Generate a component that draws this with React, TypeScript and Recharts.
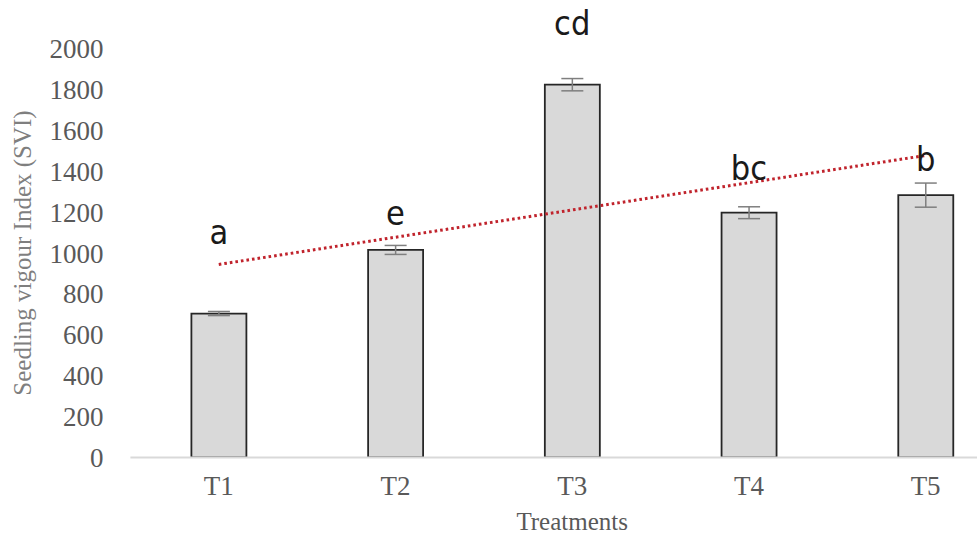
import React from 'react'
import {
  ComposedChart, Bar, ErrorBar, XAxis, YAxis, ReferenceLine, ReferenceDot,
} from 'recharts'

const treatments = ['T1', 'T2', 'T3', 'T4', 'T5']
const svi = [704, 1015, 1823, 1197, 1283]
const sviErr = [10, 22, 30, 29, 59]
const letters = ['a', 'e', 'cd', 'bc', 'b']
const letterAt = [1046, 1139, 2068, 1355, 1399]
const trendEnds = [944, 1477]
const yTicks = [0, 200, 400, 600, 800, 1000, 1200, 1400, 1600, 1800, 2000]

const rows = treatments.map((t, i) => ({ name: t, svi: svi[i], err: sviErr[i] }))

const serif = '"Liberation Serif", "Times New Roman", serif'

const letterShape = (txt: string) => (p: any) => (
  <text x={p.cx} y={p.cy} textAnchor="middle"
    fontFamily="'Liberation Sans Narrow', 'DejaVu Sans Condensed', Lato, sans-serif" fontSize={34} fill="#1a1a1a">
    {txt}
  </text>
)

const yTitle = (p: any) => {
  const vb = p.viewBox
  const cx = 22
  const cy = vb.y + vb.height / 2
  return (
    <text x={cx} y={cy} transform={`rotate(-90 ${cx} ${cy})`} textAnchor="middle" dominantBaseline="central"
      fontFamily={serif} fontSize={25} fill="#7f7f7f">
      Seedling vigour Index (SVI)
    </text>
  )
}

const xTitle = (p: any) => {
  const vb = p.viewBox
  return (
    <text x={vb.x + vb.width / 2} y={530} textAnchor="middle" fontFamily={serif} fontSize={25} fill="#595959">
      Treatments
    </text>
  )
}

export default function App() {
  return (
    <div style={{ position: 'absolute', left: 0, top: 0, width: 977, height: 535, overflow: 'hidden' }}>
      <ComposedChart width={1014} height={535} data={rows} margin={{ top: 48.5, right: 0, bottom: 0, left: 0 }}>
        <XAxis
          dataKey="name"
          axisLine={{ stroke: '#d9d9d9', strokeWidth: 2 }}
          tickLine={false}
          tickSize={0}
          tickMargin={18}
          height={77.5}
          tick={{ fontFamily: serif, fontSize: 27, fill: '#595959' }}
          label={{ content: xTitle }}
        />
        <YAxis
          domain={[0, 2000]}
          ticks={yTicks}
          allowDataOverflow
          axisLine={false}
          tickLine={false}
          tickSize={0}
          tickMargin={27}
          width={130.4}
          tick={{ fontFamily: serif, fontSize: 27, fill: '#595959' }}
          label={{ content: yTitle }}
        />
        <Bar dataKey="svi" fill="#d9d9d9" stroke="#262626" strokeWidth={1.8} barSize={55} isAnimationActive={false}>
          <ErrorBar dataKey="err" width={11} stroke="#7f7f7f" strokeWidth={1.5} isAnimationActive={false} />
        </Bar>
        <ReferenceLine
          segment={[{ x: treatments[0], y: trendEnds[0] }, { x: treatments[4], y: trendEnds[1] }]}
          stroke="#c0232c"
          strokeWidth={3}
          strokeDasharray="2.6 3"
          ifOverflow="visible"
        />
        {treatments.map((t, i) => (
          <ReferenceDot key={t} x={t} y={letterAt[i]} r={0} ifOverflow="visible" shape={letterShape(letters[i])} />
        ))}
      </ComposedChart>
    </div>
  )
}
